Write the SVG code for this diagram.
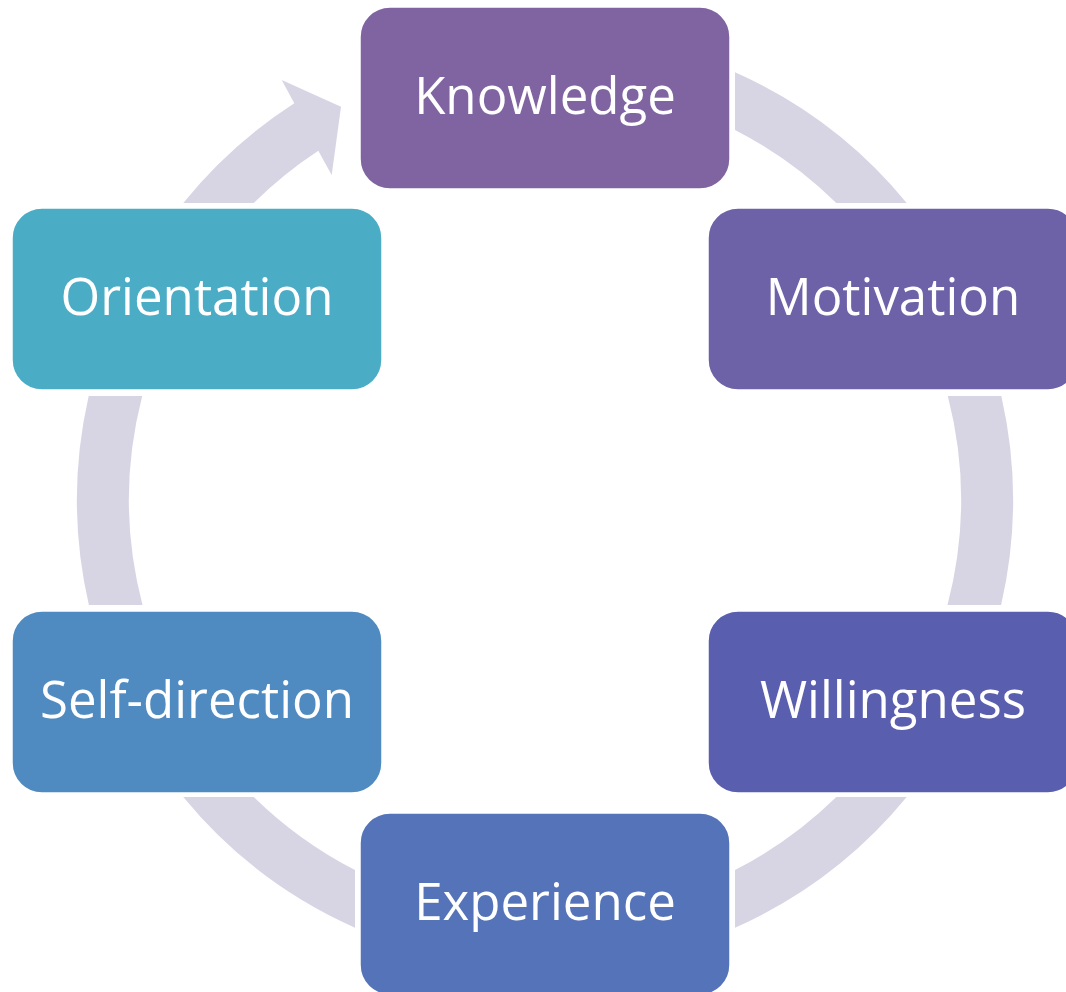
<svg xmlns="http://www.w3.org/2000/svg" width="1066" height="992" viewBox="0 0 1066 992">
  <style>
    .seg { fill: #d7d4e4; }
    .box { stroke: #ffffff; stroke-width: 1.5; }
    .lbl { font-family: "Open Sans", "Liberation Sans", sans-serif; font-size: 51px; fill: #ffffff; text-anchor: middle; }
  </style>
  <rect width="1066" height="992" fill="#ffffff"/>
  <g id="connectors">
    <path class="seg" d="M735,72.3 A468,468 0 0 1 906.7,203 L836.3,203 A416,416 0 0 0 735,129.9 Z"/>
    <path class="seg" d="M1001.3,396 A468,468 0 0 1 1001.1,605 L947.5,605 A416,416 0 0 0 947.8,396 Z"/>
    <path class="seg" d="M906.7,797 A468,468 0 0 1 735,927.7 L735,870.1 A416,416 0 0 0 836.3,797 Z"/>
    <path class="seg" d="M355,927.7 A468,468 0 0 1 183.3,797 L253.7,797 A416,416 0 0 0 355,870.1 Z"/>
    <path class="seg" d="M88.9,605 A468,468 0 0 1 88.7,396 L142.2,396 A416,416 0 0 0 142.5,605 Z"/>
    <path class="seg" d="M183.3,203 A468,468 0 0 1 294.3,103.3 L281.7,80 L341,106.7 L331.7,175 L318.3,150.7 A416,416 0 0 0 253.7,203 Z"/>
  </g>
  <g id="knowledge">
    <rect class="box" x="360" y="7" width="370" height="182" rx="30" fill="#8064a2"/>
    <text class="lbl" x="545" y="114">Knowledge</text>
  </g>
  <g id="motivation">
    <rect class="box" x="708" y="208" width="370" height="182" rx="30" fill="#6d61a7"/>
    <text class="lbl" x="893" y="315">Motivation</text>
  </g>
  <g id="willingness">
    <rect class="box" x="708" y="611" width="370" height="182" rx="30" fill="#5a5eae"/>
    <text class="lbl" x="893" y="718">Willingness</text>
  </g>
  <g id="experience">
    <rect class="box" x="360" y="813" width="370" height="182" rx="30" fill="#5573b8"/>
    <text class="lbl" x="545" y="920">Experience</text>
  </g>
  <g id="self-direction">
    <rect class="box" x="12" y="611" width="370" height="182" rx="30" fill="#4f8bc0"/>
    <text class="lbl" x="197" y="718">Self-direction</text>
  </g>
  <g id="orientation">
    <rect class="box" x="12" y="208" width="370" height="182" rx="30" fill="#4bacc6"/>
    <text class="lbl" x="197" y="315">Orientation</text>
  </g>
</svg>
